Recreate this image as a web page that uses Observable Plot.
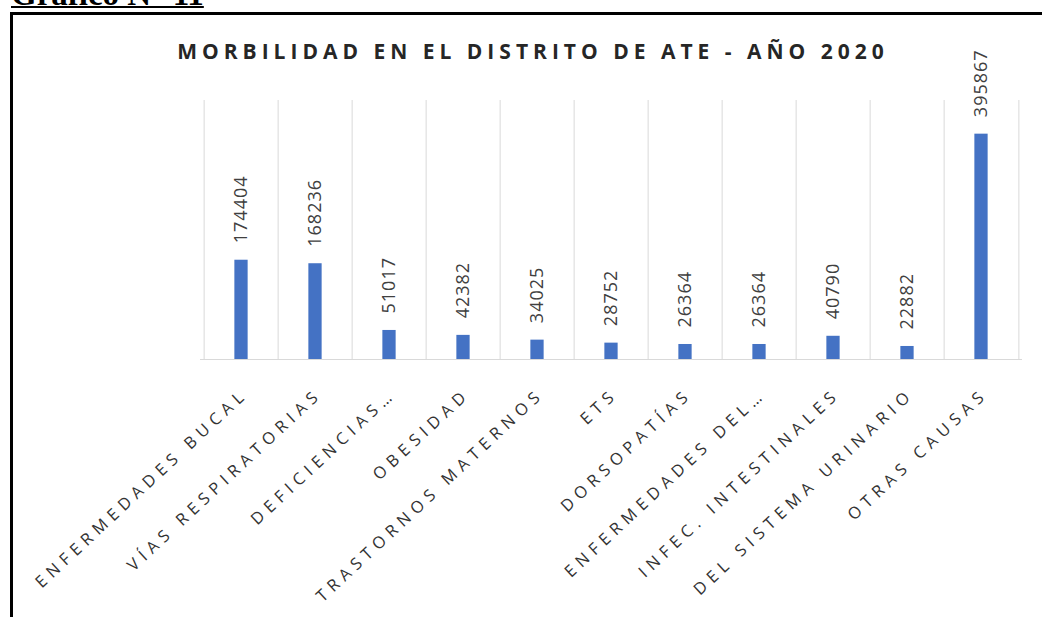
<!DOCTYPE html>
<html>
<head>
<meta charset="utf-8">
<script src="https://cdn.jsdelivr.net/npm/d3@7"></script>
<script src="https://cdn.jsdelivr.net/npm/@observablehq/plot@0.6"></script>
<style>
  html, body { margin: 0; padding: 0; background: #fff; }
  #wrap { position: relative; width: 1042px; height: 617px; overflow: hidden; background: #fff; }
  #header { position: absolute; left: 11px; top: -22px; font-family: "Liberation Serif", serif; font-weight: bold; font-size: 33px; line-height: 33px; text-decoration: underline; text-decoration-thickness: 2px; text-underline-offset: 1px; color: #000; white-space: nowrap; }
  #frame { position: absolute; left: 10px; top: 12px; width: 1100px; height: 700px; border: 3px solid #000; box-sizing: border-box; }
  #title { position: absolute; left: 0; top: 38px; width: 1066px; text-align: center; font-family: "Open Sans", sans-serif; font-weight: bold; font-size: 21px; line-height: 26px; letter-spacing: 5px; color: #262626; white-space: nowrap; }
  #chart { position: absolute; left: 0; top: 0; }
  g[aria-description="xlabels"] text { letter-spacing: 5.6px; }
  g[aria-description="values"] text { letter-spacing: 1px; }
</style>
</head>
<body>
<div id="wrap">
  <div id="header">Gráfico N° 11</div>
  <div id="frame"></div>
  <div id="title">MORBILIDAD EN EL DISTRITO DE ATE - AÑO 2020</div>
  <div id="chart"></div>
</div>
<script>
const categories = [
  "ENFERMEDADES BUCAL",
  "VÍAS RESPIRATORIAS",
  "DEFICIENCIAS…",
  "OBESIDAD",
  "TRASTORNOS MATERNOS",
  "ETS",
  "DORSOPATÍAS",
  "ENFERMEDADES DEL…",
  "INFEC. INTESTINALES",
  "DEL SISTEMA URINARIO",
  "OTRAS CAUSAS"
];
const values = [174404, 168236, 51017, 42382, 34025, 28752, 26364, 26364, 40790, 22882, 395867];
const yMax = 455000;

const data = categories.map((c, i) => ({cat: c, value: values[i]}));

const W = 1042, H = 617, ML = 200, MR = 20, MT = 100, MB = 258;
const bw = (W - ML - MR) / categories.length;
const barW = 14;
const inset = (bw - barW) / 2;

const plot = Plot.plot({
  width: W,
  height: H,
  marginLeft: ML,
  marginRight: MR,
  marginTop: MT,
  marginBottom: MB,
  style: {background: "transparent", fontFamily: "'Open Sans', sans-serif", overflow: "visible"},
  x: {domain: categories, padding: 0, axis: null},
  y: {domain: [0, yMax], axis: null},
  marks: [
    Plot.ruleX(categories, {x: d => d, dx: -bw / 2, stroke: "#d9d9d9", strokeWidth: 1}),
    Plot.ruleX([categories[categories.length - 1]], {x: d => d, dx: bw / 2, stroke: "#d9d9d9", strokeWidth: 1}),
    Plot.ruleY([0], {stroke: "#d9d9d9", strokeWidth: 1}),
    Plot.barY(data, {x: "cat", y: "value", fill: "#4472C4", insetLeft: inset, insetRight: inset}),
    Plot.text(data, {
      x: "cat", y: "value", text: d => String(d.value),
      rotate: -90, textAnchor: "start", dy: -17,
      fill: "#404040", fontSize: 18, ariaDescription: "values"
    }),
    Plot.text(categories, {
      x: d => d, frameAnchor: "bottom", text: d => d,
      rotate: -43, textAnchor: "end", lineAnchor: "bottom",
      dx: 7.5, dy: 36, fill: "#333333", fontSize: 16.5, ariaDescription: "xlabels"
    })
  ]
});
document.getElementById("chart").appendChild(plot);
</script>
</body>
</html>
